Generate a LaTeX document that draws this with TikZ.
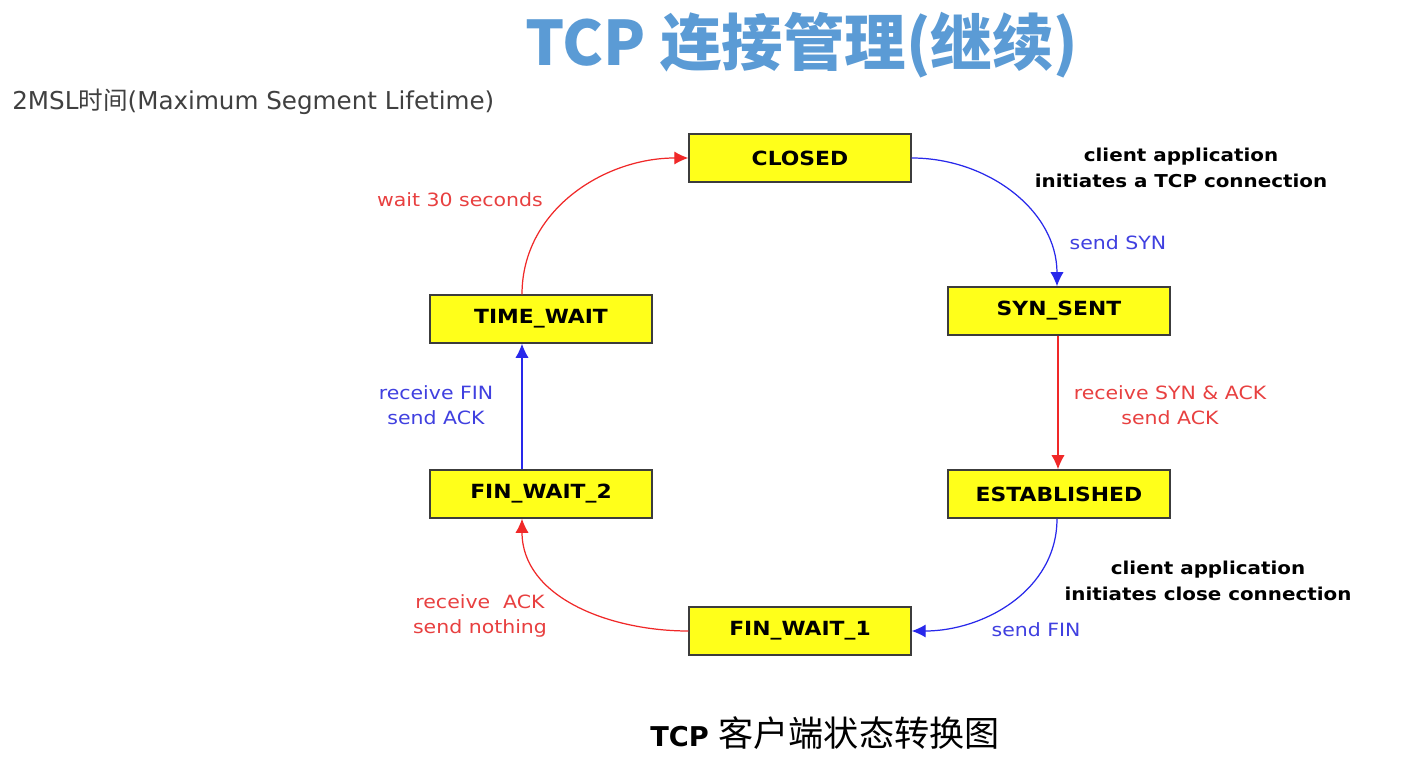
\documentclass[tikz,border=0pt]{standalone}
\usepackage{fontspec}
\usetikzlibrary{arrows.meta,calc}
\newfontfamily\cjk{Noto Sans CJK SC}
\newfontfamily\lbl[FakeStretch=1.12]{DejaVu Sans}
\newfontfamily\lblb[FakeStretch=1.12]{DejaVu Sans Bold}
\newfontfamily\sub{DejaVu Sans}
\newfontfamily\capf{DejaVu Sans Bold}
\definecolor{titleblue}{RGB}{91,155,213}
\definecolor{boxyellow}{RGB}{255,255,26}
\definecolor{boxline}{RGB}{60,60,60}
\definecolor{redtxt}{RGB}{232,64,64}
\definecolor{bluetxt}{RGB}{64,64,224}
\definecolor{redline}{RGB}{240,40,40}
\definecolor{blueline}{RGB}{40,40,235}
\definecolor{subgray}{RGB}{64,64,64}
\tikzset{
  stbox/.style={draw=boxline, fill=boxyellow, line width=0.8pt, minimum width=4.44cm, minimum height=0.96cm, inner sep=0pt, font=\lblb\fontsize{11.1}{13}\selectfont},
  rlab/.style={text=redtxt, align=center, inner sep=0pt, font=\lbl\fontsize{10.4}{14.2}\selectfont},
  blab/.style={text=bluetxt, align=center, inner sep=0pt, font=\lbl\fontsize{10.4}{14.2}\selectfont},
  note/.style={text=black, align=center, inner sep=0pt, font=\lblb\fontsize{10.1}{14.7}\selectfont},
  rarrow/.style={draw=redline, line width=0.7pt, -{Latex[length=8pt,width=7.5pt]}},
  barrow/.style={draw=blueline, line width=0.7pt, -{Latex[length=8pt,width=7.5pt]}}
}
\begin{document}
\begin{tikzpicture}[x=0.02cm,y=-0.02cm]
\useasboundingbox[fill=white] (0,0) rectangle (1428,760);
% title
\node[text=titleblue, inner sep=0pt, font=\cjk\bfseries\fontsize{35}{40}\selectfont] (title) at (802,45) {TCP 连接管理(继续)};
\node[text=subgray, anchor=west, inner sep=0pt, font=\sub\fontsize{14}{16}\selectfont] (subtitle) at (12,102) {2MSL{\cjk 时间}(Maximum Segment Lifetime)};
% states
\node[stbox] (closed) at (800,158) {CLOSED};
\node[stbox] (syn) at (1059,311) {SYN\_SENT};
\node[stbox] (est) at (1059,494) {ESTABLISHED};
\node[stbox] (fw1) at (800,631) {FIN\_WAIT\_1};
\node[stbox] (fw2) at (541,494) {FIN\_WAIT\_2};
\node[stbox] (tw) at (541,319) {TIME\_WAIT};
% transitions
\draw[barrow] (closed.east) to[out=0,in=90] ([xshift=-0.04cm]syn.north);
\draw[rarrow] ([xshift=-0.02cm]syn.south) -- ([xshift=-0.02cm]est.north);
\draw[barrow] ([xshift=-0.04cm]est.south) to[out=-90,in=0] (fw1.east);
\draw[rarrow] (fw1.west) to[out=180,in=-90] ([xshift=-0.38cm]fw2.south);
\draw[barrow] ([xshift=-0.38cm]fw2.north) -- ([xshift=-0.38cm]tw.south);
\draw[rarrow] ([xshift=-0.38cm]tw.north) to[out=90,in=180] (closed.west);
% labels
\node[rlab] (l1) at (460,200) {wait 30 seconds};
\node[blab] (l2) at (1118,243) {send SYN};
\node[note] (n1) at (1181,168) {client application\\initiates a TCP connection};
\node[rlab] (l3) at (1170,405) {receive SYN \& ACK\\send ACK};
\node[blab] (l4) at (436,405) {receive FIN\\send ACK};
\node[rlab] (l5) at (480,616) {receive\ \ ACK\\send nothing};
\node[blab] (l6) at (1036,630) {send FIN};
\node[note] (n2) at (1208,581) {client application\\initiates close connection};
% caption
\node[inner sep=0pt] (cap) at (825,733) {{\capf\fontsize{15.5}{20}\selectfont TCP}\hspace{0.55em}{\cjk\fontsize{20}{22}\selectfont 客户端状态转换图}};
\end{tikzpicture}
\end{document}
